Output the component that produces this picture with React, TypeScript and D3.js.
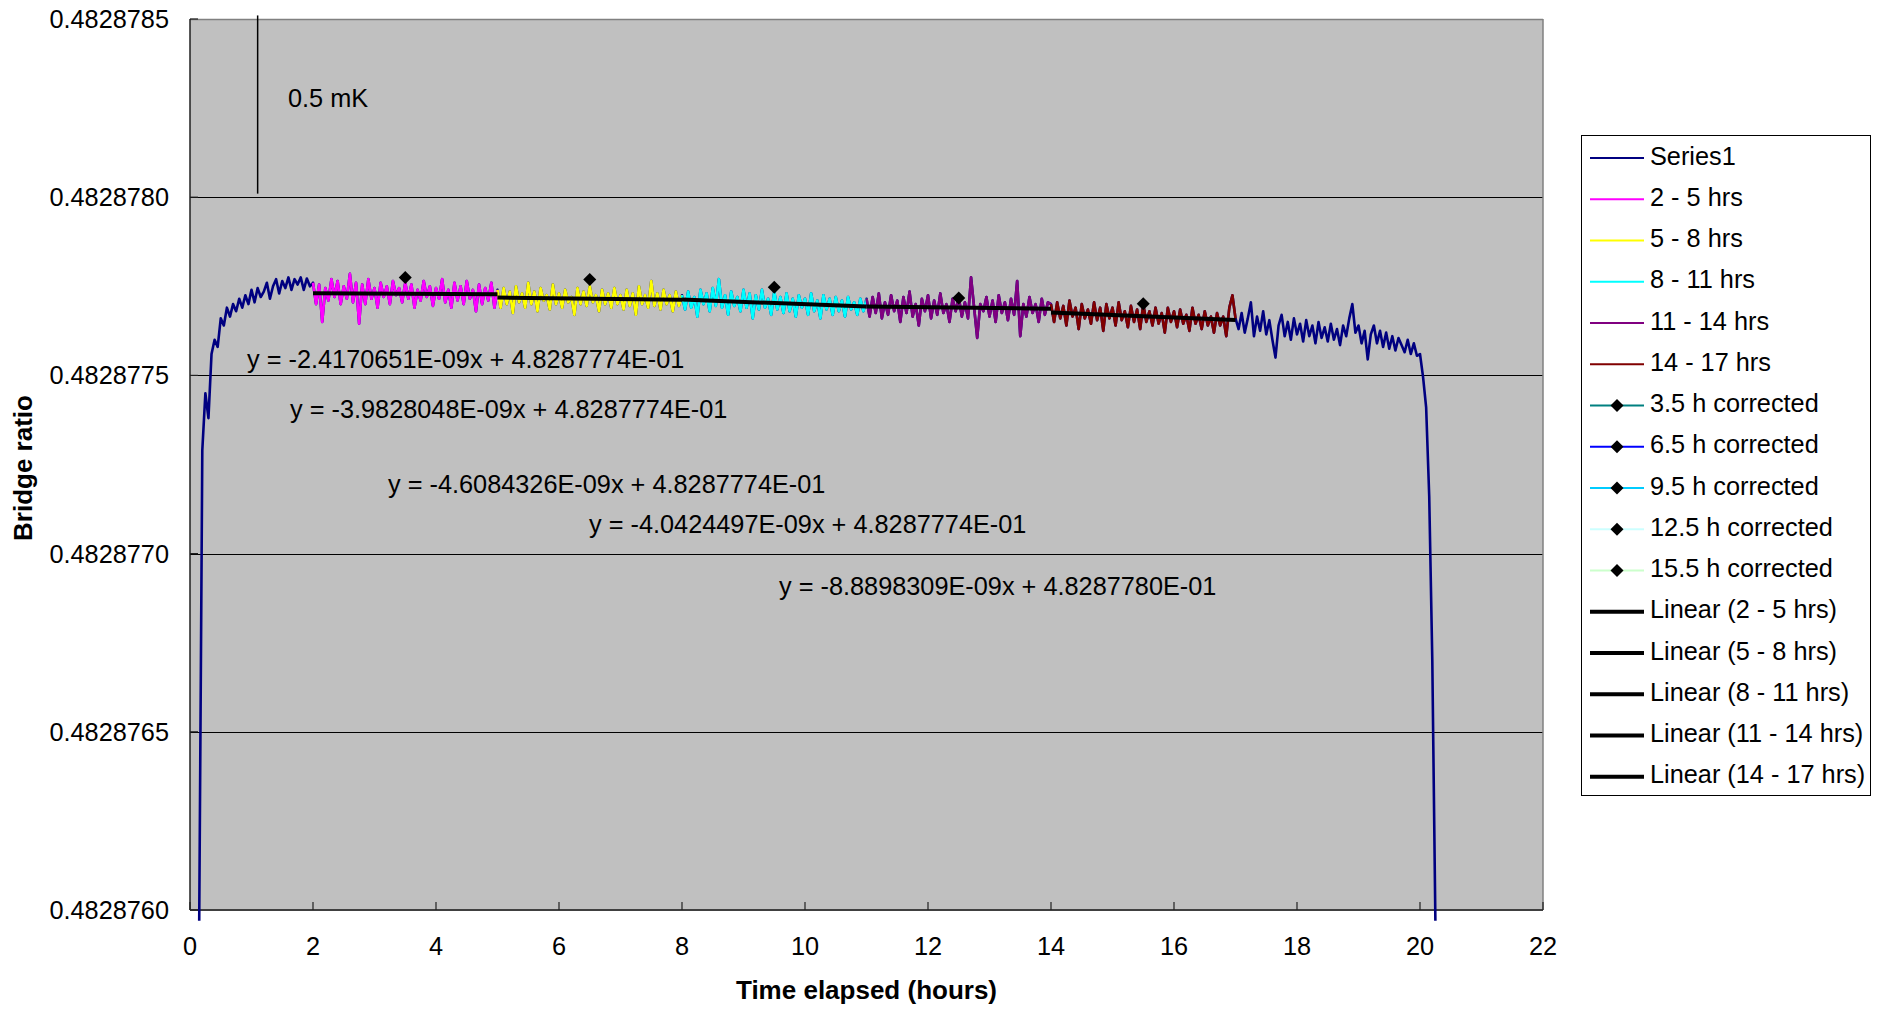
import React from "react";
import * as d3 from "d3";

// ---------- DATA ----------
// Bridge ratio values are stored as (ratio - RATIO_BASE) / RATIO_UNIT
const RATIO_BASE = 0.482876;
const RATIO_UNIT = 1e-9;
const STEP_HOURS = 0.05;

// Series1 before the first coloured window (starts at 0.15 h)
const series1HeadStart = 0.15;
const series1Head = [
  -30, 1290, 1450, 1380, 1560, 1600, 1580, 1660, 1640, 1690, 1665, 1700, 1680, 1715, 1690, 1725,
  1700, 1740, 1705, 1745, 1720, 1735, 1760, 1715, 1750, 1770, 1730, 1765, 1745, 1775, 1740, 1770,
  1755, 1775, 1740, 1772, 1750,
];

// 2 - 5 hrs
const seg2to5 = [
  1760, 1700, 1755, 1650, 1745, 1710, 1770, 1720, 1765, 1700, 1750, 1715, 1785, 1705, 1760, 1645,
  1755, 1700, 1770, 1715, 1745, 1690, 1760, 1720, 1750, 1700, 1765, 1725, 1745, 1705, 1760, 1715,
  1755, 1690, 1740, 1710, 1765, 1720, 1750, 1695, 1745, 1715, 1770, 1705, 1740, 1690, 1760, 1710,
  1750, 1700, 1765, 1715, 1740, 1680, 1755, 1700, 1745, 1710, 1760, 1690,
];
// 5 - 8 hrs
const seg5to8 = [
  1740, 1690, 1745, 1700, 1735, 1675, 1750, 1705, 1730, 1690, 1760, 1700, 1735, 1680, 1745, 1710,
  1725, 1685, 1755, 1700, 1730, 1690, 1740, 1705, 1720, 1670, 1745, 1700, 1735, 1695, 1750, 1705,
  1725, 1680, 1740, 1700, 1730, 1690, 1745, 1700, 1725, 1685, 1740, 1695, 1730, 1670, 1750, 1700,
  1725, 1690, 1765, 1695, 1730, 1685, 1740, 1700, 1725, 1680, 1735, 1695,
];
// 8 - 11 hrs
const seg8to11 = [
  1725, 1685, 1735, 1690, 1720, 1665, 1740, 1700, 1730, 1680, 1745, 1695, 1770, 1690, 1725, 1670,
  1735, 1695, 1720, 1680, 1740, 1690, 1730, 1660, 1725, 1685, 1740, 1690, 1715, 1670, 1735, 1685,
  1720, 1675, 1730, 1680, 1715, 1665, 1725, 1690, 1715, 1670, 1730, 1680, 1710, 1660, 1725, 1685,
  1715, 1670, 1720, 1680, 1710, 1665, 1720, 1685, 1705, 1670, 1715, 1680,
];
// 11 - 14 hrs
const seg11to14 = [
  1715, 1665, 1720, 1675, 1730, 1660, 1705, 1670, 1725, 1680, 1710, 1650, 1720, 1675, 1735, 1665,
  1700, 1640, 1715, 1680, 1725, 1660, 1710, 1670, 1730, 1675, 1700, 1650, 1715, 1680, 1720, 1665,
  1705, 1660, 1775, 1690, 1605, 1700, 1680, 1720, 1665, 1710, 1650, 1725, 1675, 1705, 1655, 1715,
  1670, 1765, 1610, 1700, 1665, 1720, 1675, 1700, 1650, 1715, 1670, 1705,
];
// 14 - 17 hrs
const seg14to17 = [
  1700, 1650, 1705, 1660, 1695, 1640, 1710, 1665, 1690, 1630, 1700, 1660, 1685, 1645, 1705, 1655,
  1690, 1625, 1700, 1660, 1690, 1640, 1705, 1655, 1680, 1635, 1695, 1650, 1685, 1630, 1700, 1650,
  1680, 1640, 1690, 1645, 1675, 1620, 1690, 1650, 1680, 1635, 1685, 1645, 1670, 1625, 1690, 1645,
  1670, 1630, 1680, 1640, 1665, 1620, 1675, 1640, 1665, 1610, 1690, 1725,
];
// Series1 after the last coloured window (starts at 17 h)
const series1TailStart = 17;
const series1Tail = [
  1660, 1630, 1675, 1620, 1660, 1705, 1610, 1665, 1625, 1680, 1615, 1655, 1600, 1550, 1640, 1670,
  1610, 1650, 1600, 1660, 1615, 1645, 1595, 1655, 1610, 1640, 1590, 1650, 1605, 1635, 1595, 1645,
  1600, 1630, 1585, 1640, 1610, 1660, 1700, 1620, 1640, 1590, 1625, 1545, 1615, 1640, 1590, 1625,
  1580, 1620, 1575, 1610, 1570, 1605, 1585, 1565, 1600, 1560, 1590, 1555, 1560, 1495, 1410, 1160,
  700, -30,
];

const segmentNames = ["2 - 5 hrs", "5 - 8 hrs", "8 - 11 hrs", "11 - 14 hrs", "14 - 17 hrs"];
const segmentStarts = [2, 5, 8, 11, 14];
const segmentValues = [seg2to5, seg5to8, seg8to11, seg11to14, seg14to17];

// corrected points (one per window)
const correctedNames = ["3.5 h corrected", "6.5 h corrected", "9.5 h corrected", "12.5 h corrected", "15.5 h corrected"];
const correctedHours = [3.5, 6.5, 9.5, 12.5, 15.5];
const correctedValues = [1775, 1769, 1747, 1717, 1701];

const equationLabels = [
  "y = -2.4170651E-09x + 4.8287774E-01",
  "y = -3.9828048E-09x + 4.8287774E-01",
  "y = -4.6084326E-09x + 4.8287774E-01",
  "y = -4.0424497E-09x + 4.8287774E-01",
  "y = -8.8898309E-09x + 4.8287780E-01",
];

const xTicks = [0, 2, 4, 6, 8, 10, 12, 14, 16, 18, 20, 22];
const yTicks = [0.482876, 0.4828765, 0.482877, 0.4828775, 0.482878, 0.4828785];

const scaleBarLabel = "0.5 mK";
const scaleBarHours = 1.1;
const scaleBarFrom = 0.48287801;
const scaleBarSpan = 5e-7;

// ---------- STYLE / LAYOUT ----------
const FONT = "'Liberation Sans', Arial, Helvetica, sans-serif";
const FS = 25.3;
const TITLE_FS = 26;
const SERIES1_COLOR = "#000080";
const segmentColors = ["#FF00FF", "#FFFF00", "#00FFFF", "#800080", "#800000"];
const correctedColors = ["#008080", "#0000FF", "#00CCFF", "#CCFFFF", "#CCFFCC"];
const eqPos = [
  [247, 368],
  [290, 418],
  [388, 493],
  [589, 533],
  [779, 595],
];

const PL = 190, PR = 1543, PT = 19, PB = 910;

type Pt = [number, number];

function toPoints(start: number, vals: number[]): Pt[] {
  return vals.map((v, i) => [start + i * STEP_HOURS, RATIO_BASE + v * RATIO_UNIT] as Pt);
}

function fit(points: Pt[]) {
  const n = points.length;
  const mx = d3.mean(points, (p) => p[0]) as number;
  const my = d3.mean(points, (p) => (p[1] - RATIO_BASE) / RATIO_UNIT) as number;
  let sxy = 0, sxx = 0;
  for (const p of points) {
    const dx = p[0] - mx;
    sxy += dx * ((p[1] - RATIO_BASE) / RATIO_UNIT - my);
    sxx += dx * dx;
  }
  const b = sxy / sxx;
  const x0 = points[0][0], x1 = points[n - 1][0];
  return [
    [x0, RATIO_BASE + (my + b * (x0 - mx)) * RATIO_UNIT],
    [x1, RATIO_BASE + (my + b * (x1 - mx)) * RATIO_UNIT],
  ] as Pt[];
}

export default function App() {
  const x = d3.scaleLinear().domain([0, 22]).range([PL, PR]);
  const y = d3.scaleLinear().domain([yTicks[0], yTicks[yTicks.length - 1]]).range([PB, PT]);
  const line = d3.line<Pt>().x((d) => x(d[0])).y((d) => y(d[1]));

  const head = toPoints(series1HeadStart, series1Head);
  const segPts = segmentValues.map((vals, i) => toPoints(segmentStarts[i], vals));
  const tail = toPoints(series1TailStart, series1Tail);
  const all: Pt[] = [...head, ...segPts.flat(), ...tail];
  const segDraw = segPts.map((pts, i) => [...pts, (i < segPts.length - 1 ? segPts[i + 1] : tail)[0]]);
  const fits = segDraw.map((pts) => fit(pts));

  const diamond = (cx: number, cy: number, r = 6.5) =>
    `M${cx},${cy - r}L${cx + r},${cy}L${cx},${cy + r}L${cx - r},${cy}Z`;

  const legendItems: { label: string; color: string; kind: "line" | "marker" | "linear" }[] = [
    { label: "Series1", color: SERIES1_COLOR, kind: "line" },
    ...segmentNames.map((n, i) => ({ label: n, color: segmentColors[i], kind: "line" as const })),
    ...correctedNames.map((n, i) => ({ label: n, color: correctedColors[i], kind: "marker" as const })),
    ...segmentNames.map((n) => ({ label: `Linear (${n})`, color: "#000000", kind: "linear" as const })),
  ];

  const LX = 1581, LY = 135, LW = 289, LH = 660, ROW0 = 158, ROWH = 41.25;

  return (
    <div style={{ position: "absolute", left: 0, top: 0 }}>
      <svg width={1884} height={1011} style={{ display: "block", fontFamily: FONT }}>
        <rect x={0} y={0} width={1884} height={1011} fill="#ffffff" />
        {/* plot area */}
        <rect x={PL} y={PT} width={PR - PL} height={PB - PT} fill="#C0C0C0" />
        {yTicks.slice(1, -1).map((t) => (
          <line key={t} x1={PL} x2={PR} y1={Math.round(y(t)) + 0.5} y2={Math.round(y(t)) + 0.5} stroke="#000" strokeWidth={1} />
        ))}
        <line x1={PL} x2={PR} y1={PT + 0.5} y2={PT + 0.5} stroke="#808080" strokeWidth={1.5} />
        <line x1={PR} x2={PR} y1={PT} y2={PB} stroke="#808080" strokeWidth={1.5} />
        <line x1={PL} x2={PL} y1={PT} y2={PB} stroke="#202020" strokeWidth={1.5} />
        <line x1={PL} x2={PR} y1={PB} y2={PB} stroke="#404040" strokeWidth={2} />
        {xTicks.map((t) => (
          <line key={t} x1={x(t)} x2={x(t)} y1={PB} y2={PB - 8} stroke="#202020" strokeWidth={1.2} />
        ))}
        {yTicks.map((t) => (
          <line key={t} x1={PL} x2={PL + 8} y1={y(t)} y2={y(t)} stroke="#202020" strokeWidth={1.2} />
        ))}
        {xTicks.map((t) => (
          <text key={t} x={x(t)} y={955} fontSize={FS} textAnchor="middle" fill="#000">
            {t}
          </text>
        ))}
        {yTicks.map((t) => (
          <text key={t} x={169} y={y(t) + 9} fontSize={FS} textAnchor="end" fill="#000">
            {d3.format(".7f")(t)}
          </text>
        ))}
        <text x={(PL + PR) / 2} y={999} fontSize={TITLE_FS} fontWeight="bold" textAnchor="middle">
          Time elapsed (hours)
        </text>
        <text transform={`translate(32,468) rotate(-90)`} fontSize={TITLE_FS} fontWeight="bold" textAnchor="middle">
          Bridge ratio
        </text>

        {/* scale bar */}
        <line
          x1={x(scaleBarHours)}
          x2={x(scaleBarHours)}
          y1={y(scaleBarFrom)}
          y2={y(scaleBarFrom + scaleBarSpan)}
          stroke="#000"
          strokeWidth={1.5}
        />
        <text x={288} y={107} fontSize={FS}>
          {scaleBarLabel}
        </text>

        {/* data */}
        <path d={line(all) || ""} fill="none" stroke={SERIES1_COLOR} strokeWidth={2.6} strokeLinejoin="round" />
        {segDraw.map((pts, i) => (
          <path key={i} d={line(pts) || ""} fill="none" stroke={segmentColors[i]} strokeWidth={2.6} strokeLinejoin="round" />
        ))}
        {fits.map((f, i) => (
          <path key={i} d={line(f) || ""} fill="none" stroke="#000" strokeWidth={4} />
        ))}
        {correctedHours.map((h, i) => (
          <path key={i} d={diamond(x(h), y(RATIO_BASE + correctedValues[i] * RATIO_UNIT))} fill="#000" />
        ))}
        {equationLabels.map((t, i) => (
          <text key={i} x={eqPos[i][0]} y={eqPos[i][1]} fontSize={FS} fill="#000">
            {t}
          </text>
        ))}

        {/* legend */}
        <rect x={LX + 0.5} y={LY + 0.5} width={LW} height={LH} fill="#fff" stroke="#000" strokeWidth={1} />
        {legendItems.map((it, i) => {
          const cy = ROW0 + i * ROWH;
          return (
            <g key={i}>
              <line
                x1={1590}
                x2={1644}
                y1={cy}
                y2={cy}
                stroke={it.color}
                strokeWidth={it.kind === "linear" ? 4 : 2}
              />
              {it.kind === "marker" && <path d={diamond(1617, cy, 6.5)} fill="#000" />}
              <text x={1650} y={cy + 6.5} fontSize={FS} fill="#000">
                {it.label}
              </text>
            </g>
          );
        })}
      </svg>
    </div>
  );
}
